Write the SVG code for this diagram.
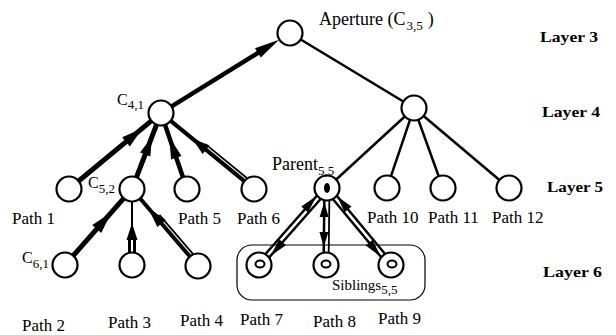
<svg xmlns="http://www.w3.org/2000/svg" width="616" height="335" viewBox="0 0 616 335">
  <style>
    text { font-family: "Liberation Serif", "Times New Roman", serif; fill: #000; }
    .lbl { font-size: 17px; }
    .big { font-size: 18px; }
    .c { font-size: 16px; }
    .sub { font-size: 13px; }
    .layer { font-size: 15px; font-weight: bold; }
    .o { fill: #fff; stroke: #000; stroke-width: 2.2; }
    .dot { fill: #000; stroke: none; }
    .ring { fill: none; stroke: #000; stroke-width: 2; }
    .edge { stroke: #000; fill: none; }
    .thin { stroke-width: 2.5; }
    .thick { stroke-width: 5; }
    .mid { stroke-width: 4; }
    .fine { stroke-width: 1.8; }
    .head { fill: #000; stroke: none; }
  </style>
  <rect width="616" height="335" fill="#fff"/>

  <!-- connectors -->
  <g id="connectors">
    <!-- plain tree links -->
    <line class="edge thin" x1="300.7" y1="39.5" x2="403.3" y2="101.5"/>
    <line class="edge thin" x1="404.8" y1="116.5" x2="336.2" y2="179.5"/>
    <line class="edge thin" x1="410" y1="119.8" x2="391" y2="176.1"/>
    <line class="edge thin" x1="418.3" y1="119.8" x2="438.7" y2="176.2"/>
    <line class="edge thin" x1="423.6" y1="116" x2="499.4" y2="180"/>

    <!-- C4,1 up to the aperture -->
    <g transform="translate(161 113) rotate(-31.8)">
      <line class="edge" stroke-width="4.5" x1="12.5" y1="0" x2="118" y2="0"/>
      <polygon class="head" points="139,0 114,-5.5 114,5.5"/>
    </g>
    <!-- path 1 to C4,1 -->
    <g transform="translate(69 189) rotate(-39.6)">
      <line class="edge thick" x1="12.5" y1="0" x2="106.8" y2="0"/>
      <polygon class="head" points="95,0 74,-6 74,6"/>
    </g>
    <!-- C5,2 to C4,1 -->
    <g transform="translate(132 189) rotate(-69.1)">
      <line class="edge thick" x1="12.5" y1="0" x2="68.8" y2="0"/>
      <polygon class="head" points="56,0 37,-5.5 37,5.5"/>
    </g>
    <!-- path 5 to C4,1 -->
    <g transform="translate(187 189) rotate(-108.9)">
      <line class="edge" stroke-width="4.5" x1="12.5" y1="0" x2="67.8" y2="0"/>
      <polygon class="head" points="55,0 33,-5.5 33,5.5"/>
    </g>
    <!-- path 6 to C4,1 -->
    <g transform="translate(254 189) rotate(-140.7)">
      <line class="edge mid" x1="12.5" y1="0" x2="107.6" y2="0"/>
      <line class="edge fine" x1="12.5" y1="4" x2="66" y2="4"/>
      <polygon class="head" points="80,0 62,-5.5 62,5.5"/>
    </g>
    <!-- C6,1 to C5,2 -->
    <g transform="translate(65 265) rotate(-48.6)">
      <line class="edge thick" x1="12.5" y1="0" x2="88.8" y2="0"/>
      <polygon class="head" points="70,0 48,-6 48,6"/>
    </g>
    <!-- path 3 to C5,2 -->
    <g transform="translate(132 265) rotate(-90)">
      <line class="edge" stroke-width="2" x1="12.5" y1="0" x2="63.5" y2="0"/>
      <line class="edge" stroke-width="8" x1="12.5" y1="0" x2="27" y2="0"/>
      <line stroke="#fff" stroke-width="2" x1="12.5" y1="0" x2="26" y2="0"/>
      <polygon class="head" points="42,0 25,-5.5 25,5.5"/>
    </g>
    <!-- path 4 to C5,2 -->
    <g transform="translate(198 266) rotate(-130.6)">
      <line class="edge mid" x1="12.5" y1="0" x2="88.9" y2="0"/>
      <line class="edge fine" x1="12.5" y1="4" x2="64" y2="4"/>
      <polygon class="head" points="77,0 56,-5.5 56,5.5"/>
    </g>

    <!-- parent and its siblings, both directions -->
    <g transform="translate(327 188) rotate(131.4)">
      <line class="edge thin" x1="12.5" y1="2.5" x2="90.2" y2="2.5"/>
      <line class="edge thin" x1="12.5" y1="-2.5" x2="90.2" y2="-2.5"/>
      <polygon class="head" points="13,2.5 31,-2 31,7"/>
      <polygon class="head" points="88,-2.5 70,-7 70,2"/>
    </g>
    <g transform="translate(327 188) rotate(90.7)">
      <line class="edge thin" x1="12.5" y1="2.5" x2="64.5" y2="2.5"/>
      <line class="edge fine" x1="12.5" y1="-2.5" x2="64.5" y2="-2.5"/>
      <polygon class="head" points="14,2.5 29,-2 29,7"/>
      <polygon class="head" points="59,2.5 44,-2 44,7"/>
    </g>
    <g transform="translate(327 188) rotate(50.3)">
      <line class="edge thin" x1="12.5" y1="2.5" x2="87.6" y2="2.5"/>
      <line class="edge thin" x1="12.5" y1="-2.5" x2="87.6" y2="-2.5"/>
      <polygon class="head" points="13,-2.5 30,-7 30,2"/>
      <polygon class="head" points="87,2.5 69,-2 69,7"/>
    </g>
  </g>

  <!-- layer 3 -->
  <g id="aperture">
    <circle class="o" cx="290" cy="33" r="12.5"/>
    <text class="big" x="319" y="25">Aperture (C<tspan class="sub" dx="1" dy="5">3,5</tspan><tspan dx="5" dy="-5">)</tspan></text>
  </g>

  <!-- layer 4 -->
  <g id="c41">
    <circle class="o" cx="161" cy="113" r="12.5"/>
    <text class="c" x="117" y="105">C<tspan class="sub" dy="4">4,1</tspan></text>
  </g>
  <g id="c45">
    <circle class="o" cx="414" cy="108" r="12.5"/>
  </g>

  <!-- layer 5 -->
  <g id="path1">
    <circle class="o" cx="69" cy="189" r="12.5"/>
    <text class="lbl" x="12" y="224">Path 1</text>
  </g>
  <g id="c52">
    <circle class="o" cx="132" cy="189" r="12.5"/>
    <text class="c" x="88" y="188">C<tspan class="sub" dy="5">5,2</tspan></text>
  </g>
  <g id="path5">
    <circle class="o" cx="187" cy="189" r="12.5"/>
    <text class="lbl" x="178" y="224">Path 5</text>
  </g>
  <g id="path6">
    <circle class="o" cx="254" cy="189" r="12.5"/>
    <text class="lbl" x="237" y="224">Path 6</text>
  </g>
  <g id="parent">
    <circle class="o" cx="327" cy="188" r="12.5"/>
    <ellipse class="dot" cx="327" cy="188" rx="3" ry="5"/>
    <text class="big" x="272" y="170">Parent<tspan class="sub" dy="5">5,5</tspan></text>
  </g>
  <g id="path10">
    <circle class="o" cx="387" cy="188" r="12.5"/>
    <text class="lbl" x="367" y="223">Path 10</text>
  </g>
  <g id="path11">
    <circle class="o" cx="443" cy="188" r="12.5"/>
    <text class="lbl" x="428" y="223">Path 11</text>
  </g>
  <g id="path12">
    <circle class="o" cx="509" cy="188" r="12.5"/>
    <text class="lbl" x="492" y="223">Path 12</text>
  </g>

  <!-- layer 6 -->
  <g id="c61">
    <circle class="o" cx="65" cy="265" r="12.5"/>
    <text class="c" x="22" y="263">C<tspan class="sub" dy="5">6,1</tspan></text>
    <text class="lbl" x="22" y="331">Path 2</text>
  </g>
  <g id="path3">
    <circle class="o" cx="132" cy="265" r="12.5"/>
    <text class="lbl" x="108" y="328">Path 3</text>
  </g>
  <g id="path4">
    <circle class="o" cx="198" cy="266" r="12.5"/>
    <text class="lbl" x="180" y="326">Path 4</text>
  </g>
  <g id="siblings">
    <rect x="237" y="245" width="188" height="55" rx="15" fill="none" stroke="#000" stroke-width="1.2"/>
    <text style="font-size:15px" x="332" y="290">Siblings<tspan class="sub" dy="4">5,5</tspan></text>
  </g>
  <g id="path7">
    <circle class="o" cx="259" cy="265" r="12.5"/>
    <ellipse class="ring" cx="260" cy="264" rx="4.5" ry="3.5"/>
    <text class="lbl" x="240" y="325">Path 7</text>
  </g>
  <g id="path8">
    <circle class="o" cx="326" cy="265" r="12.5"/>
    <ellipse class="ring" cx="326" cy="264" rx="4.5" ry="3.5"/>
    <text class="lbl" x="313" y="327">Path 8</text>
  </g>
  <g id="path9">
    <circle class="o" cx="391" cy="265" r="12.5"/>
    <ellipse class="ring" cx="392" cy="264" rx="4.5" ry="3.5"/>
    <text class="lbl" x="378" y="324">Path 9</text>
  </g>

  <!-- layer captions -->
  <g id="layers">
    <text class="layer" x="540" y="42" textLength="58" lengthAdjust="spacingAndGlyphs">Layer 3</text>
    <text class="layer" x="542" y="117" textLength="58" lengthAdjust="spacingAndGlyphs">Layer 4</text>
    <text class="layer" x="547" y="192" textLength="56" lengthAdjust="spacingAndGlyphs">Layer 5</text>
    <text class="layer" x="543" y="277" textLength="59" lengthAdjust="spacingAndGlyphs">Layer 6</text>
  </g>
</svg>
